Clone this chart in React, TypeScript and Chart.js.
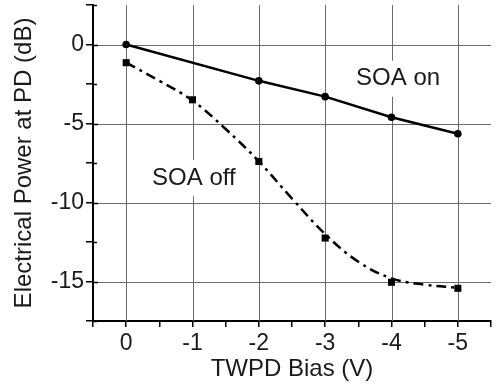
import React, { useEffect, useRef } from 'react';
import { Chart, registerables } from 'chart.js';

Chart.register(...registerables);

// TWPD bias (V) and electrical power at PD (dB)
const biasOn = [0, -2, -3, -4, -5];
const powerOn = [0, -2.3, -3.3, -4.6, -5.65];
const biasOff = [0, -1, -2, -3, -4, -5];
const powerOff = [-1.15, -3.5, -7.4, -12.25, -15.05, -15.43];
// dash-dot fitted curve through the "SOA off" points
const fitBias = [0, -0.5, -1, -1.5, -2, -2.5, -3, -3.5, -4, -4.5, -5];
const fitPower = [-1.15, -2.3, -3.55, -5.35, -7.4, -9.75, -12.0, -13.75, -14.8, -15.2, -15.4];
const xTickLabels = [0, -1, -2, -3, -4, -5];
const yTickLabels = [0, -5, -10, -15];
const seriesLabels = ['SOA on', 'SOA off'];
const labelPositions = [
  { x: -4.1, y: -2.1 },
  { x: -1.02, y: -8.4 },
];

const FONT = '"Liberation Sans", Arial, Helvetica, sans-serif';
const TEXT = '#1a1a1a';
const GRID = '#6a6a6a';

const isIn = (arr: number[], v: number) => arr.some((a) => Math.abs(a - v) < 1e-6);

const gridAndTextPlugin = {
  id: 'gridAndText',
  beforeDatasetsDraw(chart: any) {
    const { ctx, scales, chartArea } = chart;
    const xs = scales.x;
    const ys = scales.y;
    ctx.save();
    // grid lines at the labelled ticks
    ctx.strokeStyle = GRID;
    ctx.lineWidth = 1;
    xTickLabels.forEach((v) => {
      const px = Math.round(xs.getPixelForValue(v)) + 0.5;
      ctx.beginPath();
      ctx.moveTo(px, chartArea.top);
      ctx.lineTo(px, chartArea.bottom);
      ctx.stroke();
    });
    yTickLabels.forEach((v) => {
      const py = Math.round(ys.getPixelForValue(v)) + 0.5;
      ctx.beginPath();
      ctx.moveTo(chartArea.left, py);
      ctx.lineTo(chartArea.right, py);
      ctx.stroke();
    });
    // inner parts of the y-axis tick marks
    ctx.strokeStyle = '#000';
    ctx.lineWidth = 1.5;
    ys.ticks.forEach((tk: any) => {
      const py = Math.round(ys.getPixelForValue(tk.value)) + 0.5;
      const len = isIn(yTickLabels, tk.value) ? 5 : 4;
      ctx.beginPath();
      ctx.moveTo(chartArea.left, py);
      ctx.lineTo(chartArea.left + len, py);
      ctx.stroke();
    });
    // series labels on white boxes
    ctx.font = `24px ${FONT}`;
    ctx.textAlign = 'center';
    ctx.textBaseline = 'middle';
    seriesLabels.forEach((t, i) => {
      const px = xs.getPixelForValue(labelPositions[i].x);
      const py = ys.getPixelForValue(labelPositions[i].y);
      const w = ctx.measureText(t).width;
      ctx.fillStyle = '#ffffff';
      ctx.fillRect(px - w / 2 - 5, py - 17, w + 10, 36);
      ctx.fillStyle = TEXT;
      ctx.fillText(t, px, py + 1);
    });
    ctx.restore();
  },
};

export default function App() {
  const ref = useRef<HTMLCanvasElement | null>(null);

  useEffect(() => {
    if (!ref.current) return;
    const chart = new Chart(ref.current, {
      type: 'scatter',
      data: {
        datasets: [
          {
            label: 'SOA on',
            data: biasOn.map((x, i) => ({ x, y: powerOn[i] })),
            showLine: true,
            borderColor: '#000',
            backgroundColor: '#000',
            borderWidth: 2.5,
            pointStyle: 'circle',
            pointRadius: 3.8,
            pointBorderWidth: 0,
          },
          {
            label: 'SOA off fit',
            data: fitBias.map((x, i) => ({ x, y: fitPower[i] })),
            showLine: true,
            borderColor: '#000',
            borderWidth: 2.5,
            borderDash: [10, 5, 3, 5],
            tension: 0.4,
            pointRadius: 0,
          },
          {
            label: 'SOA off',
            data: biasOff.map((x, i) => ({ x, y: powerOff[i] })),
            showLine: false,
            backgroundColor: '#000',
            borderColor: '#000',
            pointStyle: 'rect',
            pointRadius: 5,
            pointBorderWidth: 0,
          },
        ],
      },
      options: {
        animation: false,
        responsive: false,
        maintainAspectRatio: false,
        layout: { padding: { top: 5, right: 0, left: 0, bottom: 0 } },
        plugins: { legend: { display: false }, tooltip: { enabled: false } },
        scales: {
          x: {
            type: 'linear',
            min: -5.5,
            max: 0.5,
            reverse: true,
            afterFit: (s: any) => {
              s.height = 66;
              s.paddingLeft = 0;
              s.paddingRight = 0;
            },
            border: { display: true, color: '#000', width: 2 },
            grid: {
              drawOnChartArea: false,
              color: '#000',
              tickColor: '#000',
              tickLength: 6,
              lineWidth: 1.5,
            },
            ticks: {
              stepSize: 0.5,
              autoSkip: false,
              maxRotation: 0,
              padding: 3,
              color: TEXT,
              font: { family: FONT, size: 23 },
              callback: (v: any) => (isIn(xTickLabels, Number(v)) ? String(Math.round(Number(v))) : ''),
            },
            title: {
              display: true,
              text: 'TWPD Bias (V)',
              color: TEXT,
              font: { family: FONT, size: 24 },
              padding: { top: 0, bottom: 3 },
            },
          },
          y: {
            type: 'linear',
            min: -17.5,
            max: 2.5,
            afterFit: (s: any) => {
              s.width = 93;
              s.paddingTop = 0;
              s.paddingBottom = 0;
            },
            border: { display: true, color: '#000', width: 2 },
            grid: {
              drawOnChartArea: false,
              color: '#000',
              tickColor: '#000',
              tickLength: 7,
              lineWidth: 1.5,
            },
            ticks: {
              stepSize: 2.5,
              autoSkip: false,
              padding: 2,
              color: TEXT,
              font: { family: FONT, size: 23 },
              callback: (v: any) => (isIn(yTickLabels, Number(v)) ? String(Math.round(Number(v))) : ''),
            },
            title: {
              display: true,
              text: 'Electrical Power at PD (dB)',
              color: TEXT,
              font: { family: FONT, size: 24 },
              padding: { top: 10, bottom: 0 },
            },
          },
        },
      },
      plugins: [gridAndTextPlugin],
    } as any);
    return () => chart.destroy();
  }, []);

  return (
    <div style={{ position: 'absolute', left: 0, top: 0, width: 496, height: 387, background: '#fff' }}>
      <canvas ref={ref} width={496} height={387} style={{ width: 496, height: 387, display: 'block' }} />
    </div>
  );
}
